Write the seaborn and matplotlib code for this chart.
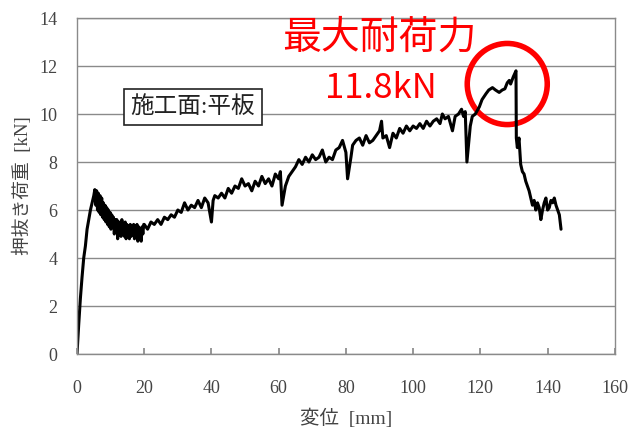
import matplotlib
matplotlib.use("Agg")
import matplotlib.pyplot as plt
from matplotlib.patches import Ellipse
import seaborn as sns
import pandas as pd

# Push-out load vs. displacement record, split into three stretches
# initial elastic rise
rise_mm = [0, 0.5, 1, 1.5, 2, 2.5, 3, 3.5, 4, 4.5, 5, 5.3]
rise_kN = [0, 1.2, 2.3, 3.2, 4.0, 4.5, 5.2, 5.6, 6.0, 6.3, 6.6, 6.85]

# noisy softening band after first peak
band_mm = [
    5.6, 5.85, 6.1, 6.35, 6.6, 6.85, 7.1, 7.35, 7.6, 7.85, 8.1, 8.35, 8.6, 8.85,
    9.1, 9.35, 9.6, 9.85, 10.1, 10.35, 10.6, 10.85, 11.1, 11.35, 11.6, 11.85,
    12.1, 12.35, 12.6, 12.85, 13.1, 13.35, 13.6, 13.85, 14.1, 14.35, 14.6, 14.85,
    15.1, 15.35, 15.6, 15.85, 16.1, 16.35, 16.6, 16.85, 17.1, 17.35, 17.6, 17.85,
    18.1, 18.35, 18.6, 18.85, 19.1, 19.35, 19.6, 19.85,
]
band_kN = [
    6.2, 6.8, 6.0, 6.7, 5.9, 6.6, 5.8, 6.5, 5.7, 6.3, 5.6, 6.2, 5.5, 6.1, 5.4,
    6.0, 5.3, 5.9, 5.2, 5.8, 5.3, 5.7, 5.0, 5.6, 5.1, 5.6, 4.8, 5.5, 5.0, 5.5,
    4.9, 5.6, 5.0, 5.4, 4.9, 5.5, 4.8, 5.4, 5.0, 5.3, 4.8, 5.4, 4.9, 5.3, 5.0,
    5.4, 4.8, 5.3, 4.9, 5.4, 4.7, 5.3, 4.8, 5.2, 4.7, 5.3, 5.0, 5.4,
]

# hardening up to the maximum and the post-peak drop
rest_mm = [
    20, 21, 22, 23, 24, 25, 26, 27,
    28, 29, 30, 31, 32, 33, 34, 35, 36, 37, 38, 39, 40, 40.5, 41, 42, 43, 44, 45,
    46, 47, 48, 49, 50, 51, 52, 53, 54, 55, 56, 57, 58, 59, 60, 60.5, 61, 62, 63,
    64, 65, 66, 67, 68, 69, 70, 71, 72, 73, 74, 75, 76, 77, 78, 79, 80, 80.5,
    81.5, 82, 83, 84, 85, 86, 87, 88, 89, 90, 90.6, 91, 92, 93, 94, 95, 96, 97,
    98, 99, 100, 101, 102, 103, 104, 105, 106, 107, 108, 108.7, 109.5, 110.5,
    111.7, 112.5, 113.5, 114.4, 115, 115.5, 116, 117, 117.6, 118.5, 119.7, 120.5,
    121.7, 122.5, 123.6, 124.5, 125.6, 126.5, 127.3, 128, 128.6, 129, 129.8,
    130.6, 130.7, 131, 131.5, 132, 132.5, 133, 133.5, 134, 134.5, 135, 135.5,
    136, 136.5, 137, 137.5, 138, 138.5, 139, 139.5, 140, 140.5, 141, 141.5, 142,
    142.5, 143, 143.5, 144,
]
rest_kN = [
    5.4, 5.2, 5.5,
    5.4, 5.6, 5.4, 5.7, 5.6, 5.8, 5.7, 6.0, 5.9, 6.3, 6.0, 6.2, 6.1, 6.4, 6.1,
    6.5, 6.3, 5.5, 6.4, 6.6, 6.5, 6.7, 6.5, 6.9, 6.7, 7.0, 6.9, 7.3, 7.0, 7.1,
    6.8, 7.2, 7.0, 7.4, 7.1, 7.3, 7.0, 7.5, 7.3, 7.6, 6.2, 7.0, 7.4, 7.6, 7.8,
    8.1, 7.9, 8.2, 8.0, 8.3, 8.1, 8.2, 8.5, 8.0, 8.2, 8.1, 8.5, 8.6, 8.9, 8.4,
    7.3, 8.2, 8.7, 8.9, 9.0, 8.7, 9.1, 8.8, 8.9, 9.1, 9.3, 9.7, 9.0, 9.1, 8.6,
    9.2, 9.0, 9.4, 9.2, 9.5, 9.3, 9.5, 9.4, 9.6, 9.4, 9.7, 9.5, 9.7, 9.8, 9.6,
    10.0, 9.8, 9.9, 9.3, 9.9, 10.0, 10.2, 9.9, 10.1, 8.0, 9.5, 9.9, 10.0, 10.3,
    10.6, 10.85, 11.0, 11.1, 11.0, 10.9, 11.0, 11.05, 11.3, 11.4, 11.25, 11.55,
    11.8, 9.0, 8.6, 9.0, 7.9, 7.6, 7.5, 7.2, 7.0, 6.8, 6.5, 6.2, 6.4, 6.0, 6.3,
    6.1, 5.6, 6.0, 6.3, 6.5, 6.0, 6.1, 6.4, 6.3, 6.5, 6.2, 6.0, 5.8, 5.2,
]
x_ticks = [0, 20, 40, 60, 80, 100, 120, 140, 160]
y_ticks = [0, 2, 4, 6, 8, 10, 12, 14]
peak_load_kN = 11.8

df = pd.DataFrame({
    "displacement": rise_mm + band_mm + rest_mm,
    "load": rise_kN + band_kN + rest_kN,
})

sns.set_theme(style="white")
serif_jp = ["Liberation Serif", "Noto Sans CJK JP"]
plt.rcParams["font.family"] = serif_jp

fig = plt.figure(figsize=(6.28, 4.29), dpi=100)
ax = fig.add_axes([0.1226, 0.1748, 0.8564, 0.7832])

sns.lineplot(data=df, x="displacement", y="load", sort=False, estimator=None,
             color="black", linewidth=2.2, ax=ax)

ax.set_xlim(0, 160)
ax.set_ylim(0, 14)
ax.set_xticks(x_ticks)
ax.set_yticks(y_ticks)
ax.yaxis.grid(True, color="#8a8a8a", linewidth=1.0)
ax.xaxis.grid(False)
for s in ax.spines.values():
    s.set_color("#8a8a8a")
    s.set_linewidth(1.0)
ax.tick_params(axis="x", direction="in", length=4, color="#8a8a8a",
               pad=19, labelsize=13, labelcolor="#444444", bottom=True)
ax.tick_params(axis="y", length=0, pad=14, labelsize=13, labelcolor="#444444")

ax.set_xlabel("変位  [mm]", fontsize=14, color="#444444", labelpad=8)
ax.set_ylabel("押抜き荷重  [kN]", fontsize=13.5, color="#444444", labelpad=5)

ax.text(34.5, 10.3, "施工面:平板", fontsize=17, color="#222222",
        ha="center", va="center",
        bbox=dict(boxstyle="square,pad=0.3", facecolor="white",
                  edgecolor="#222222", linewidth=1.2))

sans_jp = ["Noto Sans CJK JP", "DejaVu Sans"]
ax.text(90.0, 13.2, "最大耐荷力", fontsize=28, color="#ff0000",
        ha="center", va="center", family=sans_jp)
ax.text(90.3, 11.05, f"{peak_load_kN}kN", fontsize=25, color="#ff0000",
        ha="center", va="center", family=sans_jp)

ax.add_patch(Ellipse((128.0, 11.25), width=23.8, height=3.38, fill=False,
                     edgecolor="#ff0000", linewidth=4, clip_on=False))

fig.savefig("out.png", dpi=100)
